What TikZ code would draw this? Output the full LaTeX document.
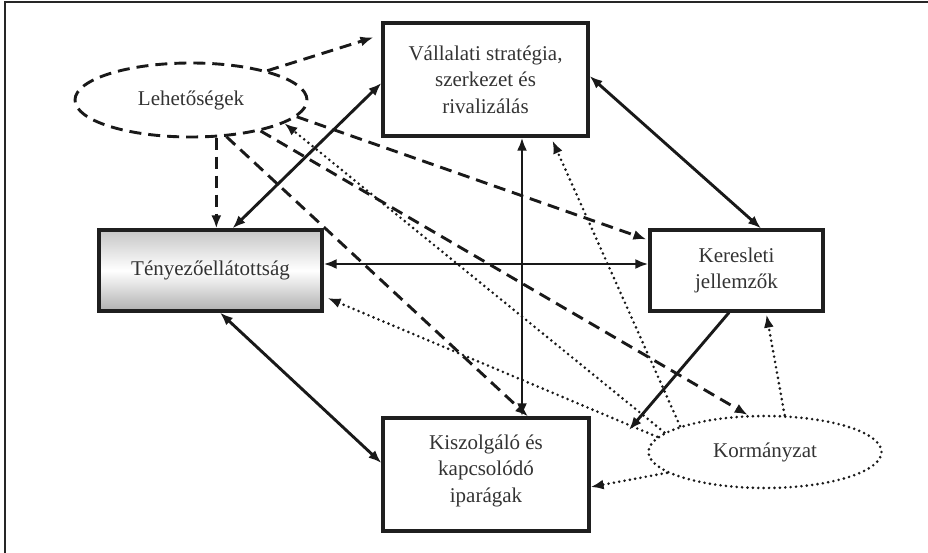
\documentclass[tikz,border=0pt]{standalone}
\usepackage{fontspec}
\setmainfont{Liberation Serif}
\usetikzlibrary{arrows.meta,shapes.geometric,calc}
\begin{document}
\begin{tikzpicture}[x=1pt,y=-1pt,
  >={Latex[length=13pt,width=10pt]},
  box/.style={draw=black!88, line width=3.2pt, align=center, inner sep=0pt,
    text=black!80, font=\fontsize{21}{26.5}\selectfont},
  oval/.style={ellipse, draw=black!88, inner sep=0pt, text=black!80,
    font=\fontsize{21}{26}\selectfont},
  sol/.style={draw=black!90, line width=2.9pt},
  ddash/.style={draw=black!90, line width=2.9pt, dash pattern=on 12pt off 7pt},
  pdot/.style={draw=black!90, line width=2.9pt, line cap=round, dash pattern=on 0pt off 5.4pt}]
\useasboundingbox (0,0) rectangle (928,553);
\draw[line width=1.4pt, black!85] (5,553) -- (5,2) -- (928,2);

% boxes
\node[box, minimum width=205pt, minimum height=113pt] (val) at (485.5,79.5)
  {Vállalati stratégia,\\szerkezet és\\rivalizálás};
\node[box, minimum width=223pt, minimum height=81pt,
  top color=gray!45, bottom color=gray!62, middle color=white] (ten) at (210.5,270.5)
  {Tényezőellátottság};
\node[box, minimum width=173pt, minimum height=81pt] (ker) at (736.5,270.5)
  {Keresleti\\jellemzők};
\node[box, minimum width=206pt, minimum height=113pt] (kis) at (486,474.5)
  {Kiszolgáló és\\kapcsolódó\\iparágak\\[-14pt]};
% ellipses
\node[oval, ddash, minimum width=232pt, minimum height=74pt] (leh) at (191,100) {Lehetőségek};
\node[oval, pdot, minimum width=233pt, minimum height=72pt] (kor) at (765,452) {Kormányzat};

% solid connectors
\draw[sol,<->] ($(ten.north)+(22,0)$) -- ($(val.west)+(0,3.5)$);
\draw[sol,<->] ($(val.east)+(0,-3.5)$) -- ($(ker.north)+(24.5,0)$);
\draw[sol,<->] ($(ten.east)+(0,-6.5)$) -- ($(ker.west)+(0,-6.5)$);
\coordinate (vk) at ($(kis.north)+(36,0)$);
\draw[sol,<->] (vk) -- (vk |- val.south);
\draw[sol,<->] ($(ten.south)+(9.5,0)$) -- ($(kis.west)+(0,-11.5)$);
\coordinate (kend) at (629,430);
\draw[sol,->] ($(ker.south)+(-7.5,0)$) -- (kend);

% dashed connectors from Lehetőségek
\draw[ddash,->] (leh.21) -- ($(val.north west)+(-8,16)$);
\draw[ddash,->] (leh.-56) -- (leh.-56 |- ten.north);
\draw[ddash,->] (leh.-9.5) -- ($(ker.north west)+(-2,11)$);
\draw[ddash,->] (leh.-46) -- ($(kis.north)+(42,0)$);
\draw[ddash,->] (leh.-24) -- (kor.115);

% dotted connectors from Kormányzat
\draw[pdot,->] (kor.169) -- (leh.-14);
\draw[pdot,->] (kor.163) -- ($(val.south)+(67,3)$);
\draw[pdot,->] (kor.62) -- ($(ker.south)+(30,2)$);
\draw[pdot,->] (kor.192) -- ($(kis.east)+(0,12.5)$);
\draw[pdot,->] (kor.172) -- ($(ten.east)+(4,27.5)$);
\end{tikzpicture}
\end{document}
